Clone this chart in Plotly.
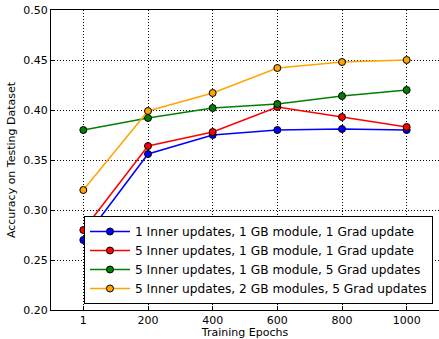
import plotly.graph_objects as go

epochs = ["1", "200", "400", "600", "800", "1000"]
names = [
    "1 Inner updates, 1 GB module, 1 Grad update",
    "5 Inner updates, 1 GB module, 1 Grad update",
    "5 Inner updates, 1 GB module, 5 Grad updates",
    "5 Inner updates, 2 GB modules, 5 Grad updates",
]
blue = [0.270, 0.356, 0.375, 0.380, 0.381, 0.380]
red = [0.280, 0.364, 0.378, 0.403, 0.393, 0.383]
green = [0.380, 0.392, 0.402, 0.406, 0.414, 0.420]
orange = [0.320, 0.399, 0.417, 0.442, 0.448, 0.450]
colors = ["#0000ff", "#ff0000", "#008000", "#ffa500"]
series = [blue, red, green, orange]

fig = go.Figure()
for name, ys, c in zip(names, series, colors):
    fig.add_trace(go.Scatter(
        x=epochs, y=ys, name=name, mode="lines+markers",
        line=dict(color=c, width=1.5),
        marker=dict(color=c, size=7, line=dict(color="black", width=1)),
    ))

font = "DejaVu Sans"
fig.update_layout(
    width=439, height=339,
    margin=dict(l=51, r=0, t=10, b=29),
    plot_bgcolor="white", paper_bgcolor="white",
    font=dict(family=font, size=11, color="black"),
    showlegend=True,
    legend=dict(
        x=0.9845, y=0.02, xanchor="right", yanchor="bottom",
        bgcolor="white", bordercolor="black", borderwidth=1,
        font=dict(family=font, size=12.2, color="black"),
        tracegroupgap=0, itemwidth=40,
    ),
    xaxis=dict(
        type="category", range=[-0.5, 5.5],
        title=dict(text="Training Epochs", font=dict(size=11), standoff=3),
        showgrid=True, gridcolor="black", griddash="1px,2px", gridwidth=1,
        showline=True, linecolor="black", linewidth=1, mirror=True,
        ticks="inside", ticklen=4, tickcolor="black",
        tickfont=dict(size=11),
    ),
    yaxis=dict(
        range=[0.20, 0.50], dtick=0.05, tickformat=".2f",
        title=dict(text="Accuracy on Testing Dataset", font=dict(size=11), standoff=5),
        showgrid=True, gridcolor="black", griddash="1px,2px", gridwidth=1,
        showline=True, linecolor="black", linewidth=1, mirror=True,
        ticks="inside", ticklen=4, tickcolor="black",
        tickfont=dict(size=11), zeroline=False,
    ),
)
fig.write_html("out.html")
